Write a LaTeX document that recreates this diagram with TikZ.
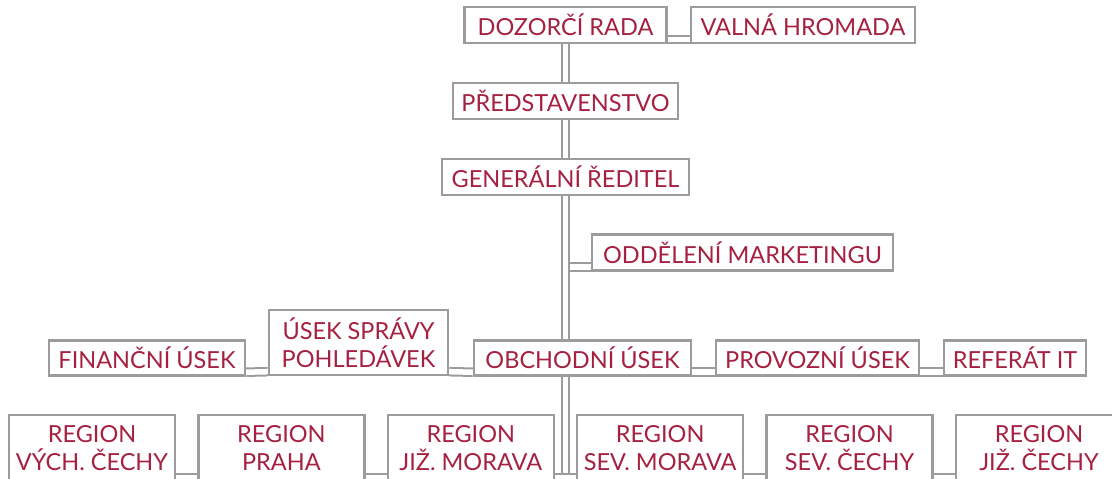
\documentclass[tikz,border=0pt]{standalone}
\usepackage{fontspec}
\setmainfont{Lato}
\usetikzlibrary{backgrounds}

\definecolor{wine}{rgb}{0.65,0.13,0.25}
\definecolor{frame}{rgb}{0.61,0.61,0.62}

\begin{document}
\begin{tikzpicture}[x=1pt, y=-1pt,
		unit/.style={draw=frame, line width=2.4pt, fill=white, text=wine, align=center,
			inner sep=0pt, minimum height=36pt, font=\fontsize{23.5}{28}\selectfont},
		region/.style={unit, minimum width=166pt, minimum height=66pt},
		link/.style={draw=frame, line width=2pt, double=white, double distance=5.5pt}]
		\useasboundingbox (0,0) rectangle (1112,479);
		
		\node[unit, minimum width=202pt] (dozor) at (565.5, 25) {DOZORČÍ RADA};
		\node[unit, minimum width=224pt] (valna) at (803, 25) {VALNÁ HROMADA};
		\node[unit, minimum width=225pt] (pred) at (565.5, 101) {PŘEDSTAVENSTVO};
		\node[unit, minimum width=247pt] (gen) at (565.5, 177) {GENERÁLNÍ ŘEDITEL};
		\node[unit, minimum width=301pt] (mkt) at (742.5, 252.5) {ODDĚLENÍ MARKETINGU};
		
		\node[unit, minimum width=196pt, minimum height=35pt] (fin) at (147, 358) {FINANČNÍ ÚSEK};
		\node[unit, minimum width=179pt, minimum height=65pt] (sprava) at (358.5, 342.5) {ÚSEK SPRÁVY\\POHLEDÁVEK};
		\node[unit, minimum width=217pt, minimum height=35pt] (obch) at (582.5, 358) {OBCHODNÍ ÚSEK};
		\node[unit, minimum width=203pt, minimum height=35pt] (prov) at (817.5, 358) {PROVOZNÍ ÚSEK};
		\node[unit, minimum width=142pt, minimum height=35pt] (it) at (1015, 358) {REFERÁT IT};
		
		\node[region] (vych) at (92, 448) {REGION\\VÝCH. ČECHY};
		\node[region] (praha) at (281.4, 448) {REGION\\PRAHA};
		\node[region] (jmor) at (470.8, 448) {REGION\\JIŽ. MORAVA};
		\node[region] (smor) at (660.2, 448) {REGION\\SEV. MORAVA};
		\node[region] (scech) at (849.6, 448) {REGION\\SEV. ČECHY};
		\node[region] (jcech) at (1039, 448) {REGION\\JIŽ. ČECHY};
		
		\begin{scope}[on background layer]
			% branch to marketing first, trunk over it
			\coordinate (mktfoot) at ([yshift=4.5pt]mkt.south west);
			\draw[link] (mktfoot) -- (mktfoot -| dozor.south);
			\coordinate (foot) at (565.5, 479);
			\draw[link] (dozor.south) -- (foot);
			
			\draw[link] ([yshift=4.5pt]dozor.south east) -- ([yshift=4.5pt]valna.south west);
			
			\draw[link] ([yshift=4.5pt]fin.south east) -- ([yshift=4.5pt]sprava.south west);
			\draw[link] ([yshift=4.5pt]sprava.south east) -- ([yshift=4.5pt]obch.south west);
			\draw[link] ([yshift=4.5pt]obch.south east) -- ([yshift=4.5pt]prov.south west);
			\draw[link] ([yshift=4.5pt]prov.south east) -- ([yshift=4.5pt]it.south west);
			
			\draw[link] ([yshift=4.5pt]vych.south east) -- ([yshift=4.5pt]praha.south west);
			\draw[link] ([yshift=4.5pt]praha.south east) -- ([yshift=4.5pt]jmor.south west);
			\draw[link] ([yshift=4.5pt]jmor.south east) -- ([yshift=4.5pt]smor.south west);
			\draw[link] ([yshift=4.5pt]smor.south east) -- ([yshift=4.5pt]scech.south west);
			\draw[link] ([yshift=4.5pt]scech.south east) -- ([yshift=4.5pt]jcech.south west);
		\end{scope}
	\end{tikzpicture}
\end{document}
